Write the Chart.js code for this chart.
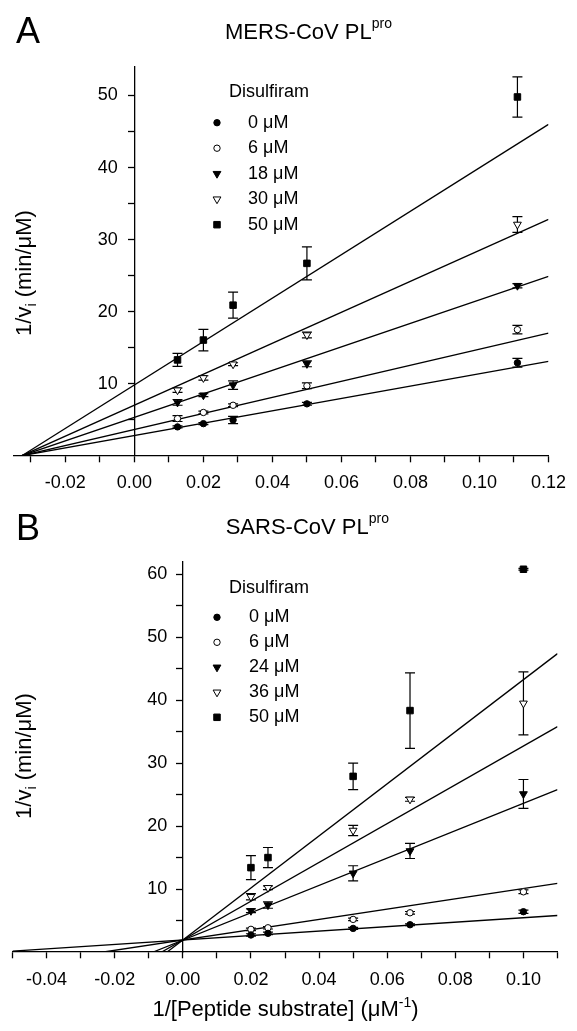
<!DOCTYPE html>
<html>
<head>
<meta charset="utf-8">
<script src="https://cdn.jsdelivr.net/npm/chart.js@4.4.1/dist/chart.umd.min.js"></script>
<style>
  body { margin: 0; background: #fff; }
  #page { position: relative; width: 577px; height: 1031px; font-family: "Liberation Sans", Arial, sans-serif; color: #000; }
  canvas { position: absolute; left: 0; }
  .txt { position: absolute; line-height: 1; white-space: nowrap; }
  .sup { line-height: 0; }
  .ytitle { position: absolute; width: 240px; text-align: center; line-height: 1; font-size: 22px; white-space: nowrap; transform: rotate(-90deg); }
</style>
</head>
<body>
<div id="page">
  <canvas id="mersChart" width="577" height="510" style="top:0"></canvas>
  <canvas id="sarsChart" width="577" height="521" style="top:510px"></canvas>

  <div class="txt" style="left:16px; top:12.8px; font-size:36px;">A</div>
  <div class="txt" style="left:225px; top:21.4px; font-size:22px;">MERS-CoV PL<span class="sup" style="font-size:14px; vertical-align:11px;">pro</span></div>
  <div class="ytitle" style="left:-96.5px; top:262px;">1/v<span class="sup" style="font-size:14px; vertical-align:-5px;">i</span> (min/μM)</div>

  <div class="txt" style="left:16px; top:509.5px; font-size:36px;">B</div>
  <div class="txt" style="left:225.7px; top:516.4px; font-size:22px;">SARS-CoV PL<span class="sup" style="font-size:14px; vertical-align:11px;">pro</span></div>
  <div class="ytitle" style="left:-96.5px; top:745px;">1/v<span class="sup" style="font-size:14px; vertical-align:-5px;">i</span> (min/μM)</div>

  <div class="txt" style="left:0; width:571px; text-align:center; top:998.4px; font-size:22px;">1/[Peptide substrate] (μM<span class="sup" style="font-size:14px; vertical-align:9px;">-1</span>)</div>
</div>

<script>
// ---- MERS-CoV PLpro (panel A) ----
const mersDoses = ['0 μM', '6 μM', '18 μM', '30 μM', '50 μM'];
const mersX = [0.0125, 0.02, 0.0286, 0.05, 0.111];
const mersMeans = [
    [4.0, 4.45, 4.96, 7.2, 12.9],
    [5.15, 6.0, 7.0, 9.7, 17.5],
    [7.4, 8.4, 9.8, 12.75, 23.6],
    [9.1, 10.8, 12.7, 16.75, 32.1],
    [13.3, 16.05, 20.9, 26.7, 49.8]
];
const mersErr = [
    [0.15, 0.15, 0.5, 0.2, 0.6],
    [0.4, 0.2, 0.2, 0.4, 0.6],
    [0.4, 0.2, 0.6, 0.4, 0.3],
    [0.3, 0.3, 0.2, 0.4, 1.1],
    [0.9, 1.5, 1.8, 2.3, 2.8]
];
const mersFitStartX = [-0.0326, -0.0326, -0.0326, -0.0326, -0.0326];
const mersFitStartY = [0, 0, 0, 0, 0];
const mersFitEndX = 0.12;
const mersFitEndY = [13.1, 17.0, 24.9, 32.8, 46.0];
const mersXTicks = [-0.03, -0.02, -0.01, 0, 0.01, 0.02, 0.03, 0.04, 0.05, 0.06, 0.07, 0.08, 0.09, 0.10, 0.11, 0.12];
const mersXLabels = [-0.02, 0, 0.02, 0.04, 0.06, 0.08, 0.10, 0.12];
const mersYTicks = [5, 10, 15, 20, 25, 30, 35, 40, 45, 50];
const mersYLabels = [10, 20, 30, 40, 50];

// ---- SARS-CoV PLpro (panel B) ----
const sarsDoses = ['0 μM', '6 μM', '24 μM', '36 μM', '50 μM'];
const sarsX = [0.02, 0.025, 0.05, 0.0667, 0.1];
const sarsMeans = [
    [2.7, 2.96, 3.75, 4.33, 6.4],
    [3.6, 3.85, 5.18, 6.23, 9.56],
    [6.55, 7.45, 12.5, 16.05, 25.1],
    [8.77, 10.2, 19.3, 24.25, 39.5],
    [13.4, 15.0, 27.9, 38.35, 60.8]
];
const sarsErr = [
    [0.2, 0.2, 0.15, 0.15, 0.25],
    [0.2, 0.2, 0.2, 0.2, 0.3],
    [0.3, 0.5, 1.2, 1.2, 2.3],
    [0.5, 0.3, 0.8, 0.3, 5.0],
    [1.9, 1.6, 2.1, 6.0, 0.15]
];
const sarsFitStartX = [-0.05, -0.0232, -0.0087, -0.0062, -0.0046];
const sarsFitStartY = [0.13, 0, 0, 0, 0];
const sarsFitEndX = 0.11;
const sarsFitEndY = [5.8, 10.9, 25.8, 35.8, 47.4];
const sarsXTicks = [-0.05, -0.04, -0.03, -0.02, -0.01, 0, 0.01, 0.02, 0.03, 0.04, 0.05, 0.06, 0.07, 0.08, 0.09, 0.10, 0.11];
const sarsXLabels = [-0.04, -0.02, 0, 0.02, 0.04, 0.06, 0.08, 0.10];
const sarsYTicks = [5, 10, 15, 20, 25, 30, 35, 40, 45, 50, 55, 60];
const sarsYLabels = [10, 20, 30, 40, 50, 60];

const FONT = '"Liberation Sans", Arial, sans-serif';

// marker look for each dose (filled / open circle, filled / open triangle down, filled square)
const markers = [
    { style: 'circle', fill: '#000', r: 3.2, rot: 0 },
    { style: 'circle', fill: '#fff', r: 3.2, rot: 0 },
    { style: 'triangle', fill: '#000', r: 4.5, rot: 180 },
    { style: 'triangle', fill: '#fff', r: 4.5, rot: 180 },
    { style: 'rect', fill: '#000', r: 4.6, rot: 0 }
];

// error bars drawn under the markers
function errorBars(xs, means, errs) {
    return {
        id: 'errorBars',
        beforeDatasetsDraw(chart) {
            const { ctx, scales } = chart;
            ctx.save();
            ctx.strokeStyle = '#000';
            ctx.lineWidth = 1.2;
            means.forEach((row, i) => row.forEach((m, j) => {
                const px = scales.x.getPixelForValue(xs[j]);
                const top = scales.y.getPixelForValue(m + errs[i][j]);
                const bot = scales.y.getPixelForValue(m - errs[i][j]);
                ctx.beginPath();
                ctx.moveTo(px, top); ctx.lineTo(px, bot);
                ctx.moveTo(px - 5, top); ctx.lineTo(px + 5, top);
                ctx.moveTo(px - 5, bot); ctx.lineTo(px + 5, bot);
                ctx.stroke();
            }));
            ctx.restore();
        }
    };
}

// y tick labels: the y axis sits at x = 0, so put the numbers left of its tick marks
function yLabelsLeft(labels, gap) {
    return {
        id: 'yLabelsLeft',
        afterDraw(chart) {
            const { ctx, scales } = chart;
            const ax = scales.x.getPixelForValue(0);
            ctx.save();
            ctx.font = '18px ' + FONT;
            ctx.fillStyle = '#000';
            ctx.textAlign = 'right';
            ctx.textBaseline = 'middle';
            labels.forEach(v => ctx.fillText(String(v), ax - gap, scales.y.getPixelForValue(v)));
            ctx.restore();
        }
    };
}

// legend box "Disulfiram" inside the plot
function doseLegend(labels, pos) {
    return {
        id: 'doseLegend',
        afterDraw(chart) {
            const ctx = chart.ctx;
            ctx.save();
            ctx.font = '18px ' + FONT;
            ctx.textBaseline = 'middle';
            ctx.textAlign = 'left';
            ctx.fillStyle = '#000';
            ctx.fillText('Disulfiram', pos.titleX, pos.titleY);
            labels.forEach((lab, i) => {
                const y = pos.rowY + i * pos.rowStep;
                const m = markers[i];
                ctx.fillStyle = m.fill;
                ctx.strokeStyle = '#000';
                ctx.lineWidth = 1;
                Chart.helpers.drawPoint(ctx, { pointStyle: m.style, rotation: m.rot, radius: m.r, borderWidth: 1 }, pos.markerX, y);
                ctx.fillStyle = '#000';
                ctx.fillText(lab, pos.textX, y);
            });
            ctx.restore();
        }
    };
}

function axisOpts(min, max, where, ticks, labels, fmt, showLabels) {
    return {
        type: 'linear',
        min: min,
        max: max,
        position: where,
        afterBuildTicks: axis => { axis.ticks = ticks.map(v => ({ value: v })); },
        ticks: {
            display: showLabels,
            autoSkip: false,
            maxRotation: 0,
            color: '#000',
            padding: 11,
            font: { family: FONT, size: 18 },
            callback: v => labels.includes(v) ? fmt(v) : ''
        },
        grid: { drawOnChartArea: false, drawTicks: true, tickLength: 6, tickColor: '#000', tickWidth: 1.3, color: '#000' },
        border: { display: true, color: '#000', width: 1.3 }
    };
}

function drawPanel(id, p) {
    const datasets = [];
    p.means.forEach((row, i) => {
        const m = markers[i];
        datasets.push({
            type: 'scatter',
            label: p.doses[i],
            data: row.map((v, j) => ({ x: p.xs[j], y: v })),
            pointStyle: m.style,
            pointRotation: m.rot,
            pointRadius: m.r,
            pointBackgroundColor: m.fill,
            pointBorderColor: '#000',
            pointBorderWidth: 1
        });
    });
    p.fitEndY.forEach((ey, i) => {
        datasets.push({
            type: 'line',
            label: p.doses[i] + ' fit',
            data: [{ x: p.fitStartX[i], y: p.fitStartY[i] }, { x: p.fitEndX, y: ey }],
            borderColor: '#000',
            borderWidth: 1.3,
            pointRadius: 0,
            fill: false
        });
    });

    new Chart(document.getElementById(id), {
        data: { datasets: datasets },
        options: {
            responsive: false,
            animation: false,
            layout: { padding: p.padding },
            plugins: { legend: { display: false }, tooltip: { enabled: false } },
            scales: {
                x: axisOpts(p.xMin, p.xMax, { y: 0 }, p.xTicks, p.xLabels, v => v.toFixed(2), true),
                y: axisOpts(0, p.yMax, { x: 0 }, p.yTicks, p.yLabels, v => String(v), false)
            }
        },
        plugins: [errorBars(p.xs, p.means, p.errs), yLabelsLeft(p.yLabels, p.yGap), doseLegend(p.doses, p.legend)]
    });
}

drawPanel('mersChart', {
    doses: mersDoses, xs: mersX, means: mersMeans, errs: mersErr,
    fitStartX: mersFitStartX, fitStartY: mersFitStartY, fitEndX: mersFitEndX, fitEndY: mersFitEndY,
    xMin: -0.035, xMax: 0.12, yMax: 54,
    xTicks: mersXTicks, xLabels: mersXLabels, yTicks: mersYTicks, yLabels: mersYLabels, yGap: 16.5,
    padding: { left: 13.6, right: 19, top: 66.7, bottom: 54.3 },
    legend: { titleX: 229, titleY: 92, markerX: 217, textX: 248, rowY: 122.7, rowStep: 25.5 }
});

drawPanel('sarsChart', {
    doses: sarsDoses, xs: sarsX, means: sarsMeans, errs: sarsErr,
    fitStartX: sarsFitStartX, fitStartY: sarsFitStartY, fitEndX: sarsFitEndX, fitEndY: sarsFitEndY,
    xMin: -0.05, xMax: 0.11, yMax: 62,
    xTicks: sarsXTicks, xLabels: sarsXLabels, yTicks: sarsYTicks, yLabels: sarsYLabels, yGap: 15.5,
    padding: { left: 12.5, right: 19.5, top: 51.7, bottom: 79 },
    legend: { titleX: 229, titleY: 77.7, markerX: 217, textX: 249, rowY: 107.3, rowStep: 25 }
});
</script>
</body>
</html>
